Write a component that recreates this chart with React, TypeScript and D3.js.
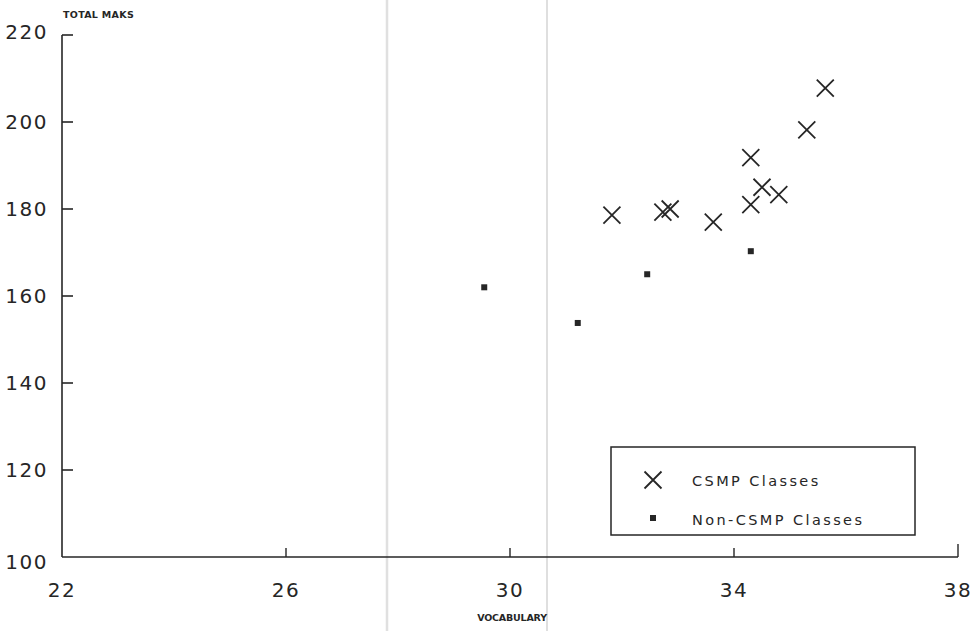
import React from "react";
import * as d3 from "d3";

// CSMP classes: vocabulary score vs total marks
const csmpVocab = [31.82, 32.73, 32.86, 33.63, 34.3, 34.3, 34.5, 34.8, 35.3, 35.63];
const csmpMarks = [178.6, 179.3, 180.0, 177.0, 191.8, 181.0, 185.0, 183.3, 198.2, 207.8];

// Non-CSMP classes
const nonVocab = [29.54, 31.21, 32.45, 34.3];
const nonMarks = [162.0, 153.8, 165.0, 170.3];

const xTicks = [22, 26, 30, 34, 38];
const yTicks = [100, 120, 140, 160, 180, 200, 220];

const W = 974;
const H = 631;
const ink = "#262626";

export default function App() {
  const x = d3.scaleLinear().domain([22, 38]).range([62, 958]);
  const y = d3.scaleLinear().domain([100, 220]).range([557, 35]);
  const tickFont = "'DejaVu Sans', 'Liberation Sans', sans-serif";

  const cross = (cx: number, cy: number, k: number) => {
    const r = 8.5;
    return (
      <path
        key={k}
        d={`M${cx - r},${cy - r}L${cx + r},${cy + r}M${cx - r},${cy + r}L${cx + r},${cy - r}`}
        stroke={ink}
        strokeWidth={1.8}
        fill="none"
      />
    );
  };

  return (
    <svg
      width={W}
      height={H}
      style={{ position: "absolute", left: 0, top: 0, background: "#fff" }}
    >
      <rect width={W} height={H} fill="#fff" />
      {/* page fold lines */}
      <line x1={387} x2={387} y1={0} y2={H} stroke="#e0e0e0" strokeWidth={2.5} />
      <line x1={547} x2={547} y1={0} y2={H} stroke="#d4d4d4" strokeWidth={1.5} />

      {/* y axis */}
      <line x1={62} x2={62} y1={y(220)} y2={y(100)} stroke={ink} strokeWidth={1.6} />
      {yTicks.map((t) => (
        <g key={t}>
          {t !== 100 && (
            <line x1={62} x2={73} y1={y(t)} y2={y(t)} stroke={ink} strokeWidth={1.6} />
          )}
          <text
            x={48}
            y={y(t) + (t === 220 ? -3 : t === 100 ? 5 : 0)}
            dy="0.36em"
            textAnchor="end"
            fontFamily={tickFont}
            fontSize={20}
            letterSpacing={1.5}
            fill={ink}
          >
            {t}
          </text>
        </g>
      ))}

      {/* x axis */}
      <line x1={x(22)} x2={x(38)} y1={y(100)} y2={y(100)} stroke={ink} strokeWidth={1.6} />
      {xTicks.map((t) => (
        <g key={t}>
          {t !== 22 && (
            <line
              x1={x(t)}
              x2={x(t)}
              y1={y(100)}
              y2={y(100) - (t === 38 ? 13 : 9)}
              stroke={ink}
              strokeWidth={1.4}
            />
          )}
          <text
            x={x(t)}
            y={597}
            textAnchor="middle"
            fontFamily={tickFont}
            fontSize={20}
            letterSpacing={1.5}
            fill={ink}
          >
            {t}
          </text>
        </g>
      ))}

      {/* axis titles */}
      <text
        x={63}
        y={18}
        fontFamily={tickFont}
        fontSize={9.5}
        fontWeight="bold"
        letterSpacing={0.3}
        fill={ink}
      >
        TOTAL MAKS
      </text>
      <text
        x={512}
        y={621}
        textAnchor="middle"
        fontFamily={tickFont}
        fontSize={9.5}
        fontWeight="bold"
        letterSpacing={-0.2}
        fill={ink}
      >
        VOCABULARY
      </text>

      {/* points */}
      {csmpVocab.map((v, i) => cross(x(v), y(csmpMarks[i]), i))}
      {nonVocab.map((v, i) => (
        <rect
          key={i}
          x={x(v) - 3}
          y={y(nonMarks[i]) - 3}
          width={6}
          height={6}
          fill={ink}
        />
      ))}

      {/* legend */}
      <rect x={611} y={447} width={304} height={88} fill="#fff" stroke={ink} strokeWidth={1.5} />
      {cross(653, 480, 100)}
      <text x={692} y={486} fontFamily={tickFont} fontSize={14.5} letterSpacing={2.4} fill={ink}>
        CSMP Classes
      </text>
      <rect x={650} y={515} width={6} height={6} fill={ink} />
      <text x={692} y={525} fontFamily={tickFont} fontSize={14.5} letterSpacing={2.4} fill={ink}>
        Non-CSMP Classes
      </text>
    </svg>
  );
}
